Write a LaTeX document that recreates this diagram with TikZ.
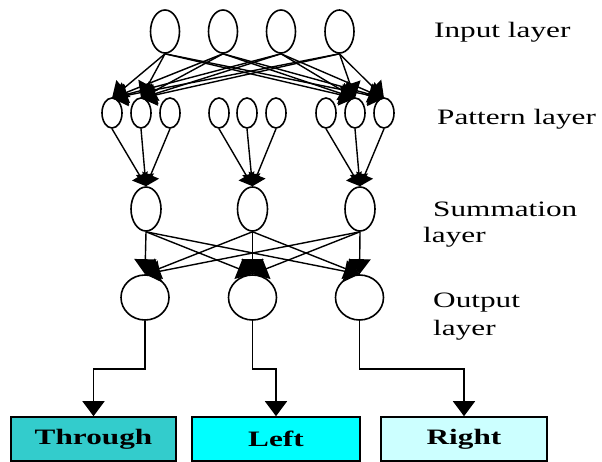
\documentclass[tikz,border=0pt]{standalone}
\usepackage{fontspec}
\setmainfont[FakeStretch=1.42]{Liberation Serif}
\usetikzlibrary{shapes.geometric,arrows.meta}

\definecolor{throughfill}{HTML}{33CCCC}
\definecolor{leftfill}{HTML}{00FFFF}
\definecolor{rightfill}{HTML}{CCFFFF}

\begin{document}
\begin{tikzpicture}[x=1pt,y=-1pt,
  neuron/.style={draw, ellipse, line width=1.6pt, inner sep=0pt, fill=white},
  inp/.style={neuron, minimum width=29pt, minimum height=43pt},
  pat/.style={neuron, minimum width=20pt, minimum height=30pt},
  summ/.style={neuron, minimum width=30pt, minimum height=44pt},
  outn/.style={neuron, minimum width=48pt, minimum height=45pt},
  link/.style={line width=1.4pt, -{Triangle[length=15pt,width=22pt]}},
  plink/.style={line width=1.4pt, -{Triangle[length=12pt,width=18pt]}},
  boxlink/.style={line width=1.6pt, -{Triangle[length=15pt,width=22pt]}},
  classbox/.style={draw, line width=1.6pt, minimum height=44pt, inner sep=0pt,
    font=\fontsize{22}{26}\selectfont\bfseries},
  lbl/.style={anchor=base west, inner sep=0pt, font=\fontsize{22}{26}\selectfont}]

\useasboundingbox (0,0) rectangle (602,462);

% input layer
\foreach \n/\x in {1/165,2/223,3/281,4/339.5}
  \node[inp] (i\n) at (\x,31.5) {};

% pattern layer
\foreach \n/\x in {1/112,2/141,3/170,4/219,5/247,6/276,7/326,8/355,9/384}
  \node[pat] (p\n) at (\x,113) {};

% summation layer
\foreach \n/\x in {1/146,2/252.5,3/360}
  \node[summ] (s\n) at (\x,209) {};

% output layer
\foreach \n/\x in {1/145,2/252.5,3/359.5}
  \node[outn] (o\n) at (\x,297.5) {};

% class boxes
\node[classbox, fill=throughfill, minimum width=165pt] (b1) at (93.5,439) {Through};
\node[classbox, fill=leftfill, minimum width=168pt] (b2) at (276,439) {Left};
\node[classbox, fill=rightfill, minimum width=166pt] (b3) at (464,439) {Right};

% layer labels
\node[lbl] (lin) at (434,38) {Input layer};
\node[lbl] (lpat) at (437,125) {Pattern layer};
\node[lbl] (lsum) at (433,217) {Summation};
\node[lbl] (lsum2) at (423,243) {layer};
\node[lbl] (lout) at (433,307) {Output};
\node[lbl] (lout2) at (433,335) {layer};

% input -> pattern
\foreach \i in {1,...,4}
  \foreach \j in {1,2,8,9}
    \draw[link] (i\i.south) -- ([yshift=-1pt]p\j.north);

% pattern -> summation
\foreach \j in {1,2,3} \draw[plink] (p\j.south) -- (s1.north);
\foreach \j in {4,5,6} \draw[plink] (p\j.south) -- (s2.north);
\foreach \j in {7,8,9} \draw[plink] (p\j.south) -- (s3.north);

% summation -> output
\foreach \i in {1,2,3}
  \foreach \j in {1,2,3}
    \draw[link] (s\i.south) -- (o\j.north);

% output -> classes
\draw[boxlink] (o1.south) -- ++(0,48) -| (b1.north);
\draw[boxlink] (o2.south) -- ++(0,48) -| (b2.north);
\draw[boxlink] (o3.south) -- ++(0,48) -| (b3.north);

\end{tikzpicture}
\end{document}
